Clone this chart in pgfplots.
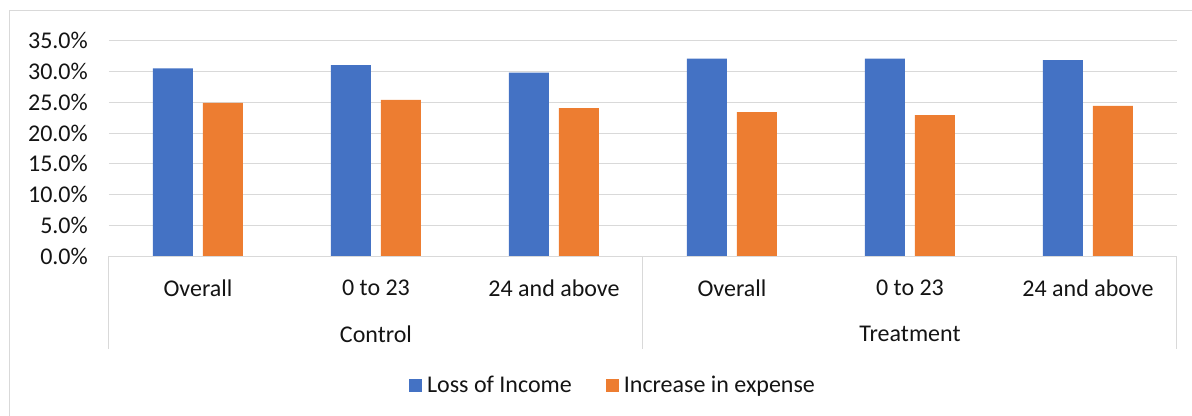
\documentclass[border=0pt]{standalone}
\usepackage{fontspec}
\setmainfont{Carlito}
\usepackage{pgfplots}
\pgfplotsset{compat=1.18}

\definecolor{incomeblue}{RGB}{68,114,196}
\definecolor{expenseorange}{RGB}{237,125,49}
\definecolor{gridgray}{RGB}{217,217,217}
\definecolor{textgray}{RGB}{20,20,20}

\begin{document}
\begin{tikzpicture}[font=\fontsize{24bp}{28bp}\selectfont]
\path[use as bounding box] (-109bp,-159.7bp) rectangle (1083bp,256.3bp);
\begin{axis}[
  scale only axis,
  width=1068bp, height=215.6bp,
  at={(0,0)}, anchor=south west,
  clip=false,
  xmin=-0.5, xmax=5.5,
  ymin=0, ymax=35,
  xtick={0,...,5},
  xticklabels={Overall,0 to 23,24 and above,Overall,0 to 23,24 and above},
  ytick={0,5,...,35},
  yticklabel={\pgfmathprintnumber[fixed,fixed zerofill,precision=1]{\tick}\%},
  /pgf/number format/assume math mode=true,
  major tick length=0pt,
  axis line style={draw=none},
  ymajorgrids,
  grid style={draw=gridgray, line width=1bp},
  x tick label style={anchor=center, yshift=-31.7bp, text=textgray},
  y tick label style={anchor=east, inner sep=0pt, xshift=-21bp, text=textgray},
  ybar=10bp,
  bar width=40bp,
  legend columns=2,
  legend style={at={(0.471,-0.597)}, anchor=center, draw=none, fill=none,
    text=textgray, column sep=5bp,
    /tikz/every even column/.append style={column sep=34bp},
    nodes={inner sep=0pt}},
  legend image code/.code={\path[#1, draw=none] (0bp,-6.5bp) rectangle (13bp,6.5bp);},
]
\addplot[fill=incomeblue, draw=none] coordinates {
  (0,30.5) (1,31.05) (2,29.8) (3,32.1) (4,32.1) (5,31.85)};
\addlegendentry{Loss of Income}
\addplot[fill=expenseorange, draw=none] coordinates {
  (0,24.9) (1,25.4) (2,24.05) (3,23.4) (4,22.9) (5,24.4)};
\addlegendentry{Increase in expense}

% category axis line and group separators
\draw[gridgray, line width=1bp] (axis cs:-0.5,0) -- (axis cs:5.5,0);
\draw[gridgray, line width=1bp] (axis cs:-0.5,0) -- (axis cs:-0.5,-15.05);
\draw[gridgray, line width=1bp] (axis cs:2.5,0) -- (axis cs:2.5,-15.05);
\draw[gridgray, line width=1bp] (axis cs:5.5,0) -- (axis cs:5.5,-15.05);
% group labels
\node[text=textgray] at ([yshift=-77.7bp]axis cs:1,0) {Control};
\node[text=textgray] at ([yshift=-77.7bp]axis cs:4,0) {Treatment};
\end{axis}
% chart area frame
\draw[gridgray, line width=1bp] (-99bp,-159.7bp) -- (-99bp,245.3bp) -- (1083bp,245.3bp);
\end{tikzpicture}
\end{document}
